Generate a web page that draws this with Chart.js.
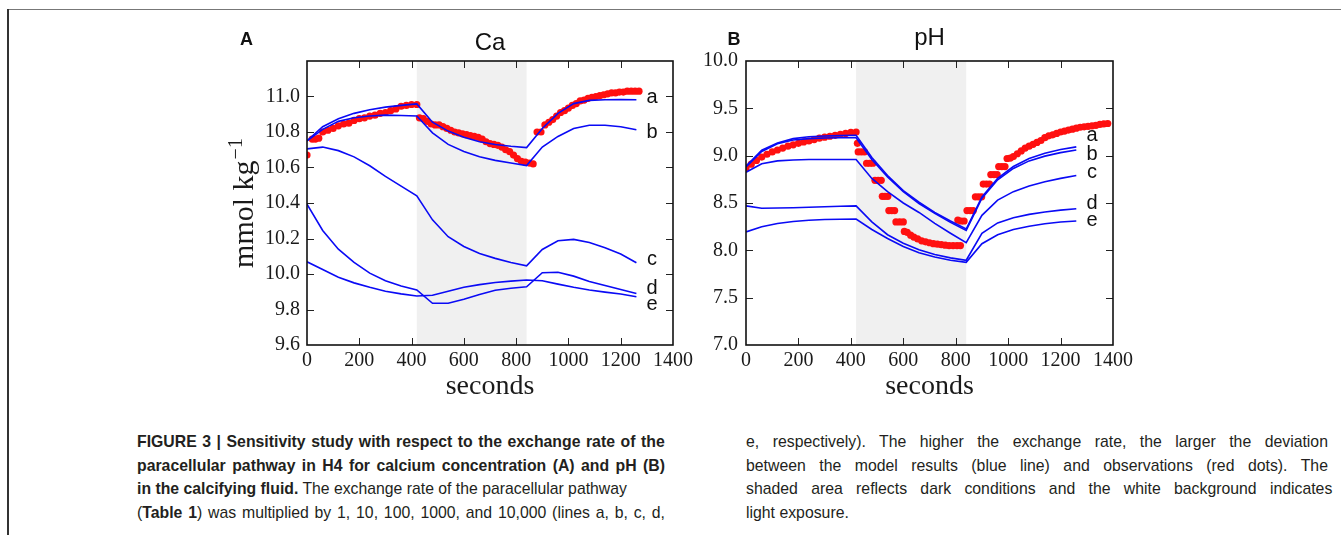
<!DOCTYPE html>
<html>
<head>
<meta charset="utf-8">
<script src="https://cdn.jsdelivr.net/npm/chart.js@4.4.1/dist/chart.umd.min.js"></script>
<style>
  html,body{margin:0;padding:0;background:#fff;}
  body{width:1341px;height:535px;overflow:hidden;position:relative;font-family:"Liberation Sans",Arial,sans-serif;}
  #frameTop{position:absolute;left:8px;top:9px;width:1333px;height:1px;background:#777;}
  #frameLeft{position:absolute;left:7px;top:9px;width:2px;height:526px;background:#333;}
  canvas{position:absolute;top:0;}
  #cA{left:220px;}
  #cB{left:700px;}
  .cap{position:absolute;top:430px;font-size:17px;color:#231f20;font-family:"Liberation Sans",Arial,sans-serif;}
  .ln{height:23.5px;line-height:23.5px;white-space:nowrap;}
  .ln .t{display:inline-block;transform-origin:0 50%;}
</style>
</head>
<body>
<div id="frameTop"></div>
<div id="frameLeft"></div>
<canvas id="cA" width="480" height="410"></canvas>
<canvas id="cB" width="460" height="410"></canvas>

<div class="cap" style="left:137px;width:528px;">
  <div class="ln" data-w="528"><span class="t"><b>FIGURE 3 | Sensitivity study with respect to the exchange rate of the</b></span></div>
  <div class="ln" data-w="528"><span class="t"><b>paracellular pathway in H4 for calcium concentration (A) and pH (B)</b></span></div>
  <div class="ln" data-w="490"><span class="t"><b>in the calcifying fluid.</b> The exchange rate of the paracellular pathway</span></div>
  <div class="ln" data-w="528"><span class="t">(<b>Table 1</b>) was multiplied by 1, 10, 100, 1000, and 10,000 (lines a, b, c, d,</span></div>
</div>
<div class="cap" style="left:746px;width:586px;">
  <div class="ln" data-w="582"><span class="t">e, respectively). The higher the exchange rate, the larger the deviation</span></div>
  <div class="ln" data-w="582"><span class="t">between the model results (blue line) and observations (red dots). The</span></div>
  <div class="ln" data-w="586"><span class="t">shaded area reflects dark conditions and the white background indicates</span></div>
  <div class="ln" data-w="0"><span class="t">light exposure.</span></div>
</div>

<script>
// ---------- data ----------
const modelTime = [0,60,120,180,240,300,360,420,480,540,600,660,720,780,840,900,960,1020,1080,1140,1200,1260];

// Panel A (Ca, mmol kg-1) model lines a..e
const caLineA = [10.75,10.83,10.875,10.905,10.925,10.94,10.95,10.958,10.855,10.805,10.77,10.745,10.73,10.72,10.712,10.82,10.905,10.96,10.978,10.982,10.983,10.982];
const caLineB = [10.75,10.815,10.86,10.88,10.89,10.895,10.893,10.89,10.795,10.73,10.69,10.66,10.64,10.625,10.611,10.715,10.775,10.82,10.838,10.838,10.83,10.813];
const caLineC = [10.705,10.715,10.695,10.66,10.61,10.55,10.495,10.44,10.305,10.21,10.155,10.115,10.088,10.065,10.046,10.138,10.187,10.195,10.177,10.148,10.113,10.063];
const caLineD = [10.393,10.245,10.14,10.065,10.005,9.962,9.932,9.91,9.835,9.835,9.858,9.885,9.908,9.92,9.928,10.007,10.01,9.988,9.958,9.935,9.913,9.89];
const caLineE = [10.069,10.025,9.982,9.95,9.925,9.903,9.888,9.876,9.88,9.903,9.925,9.94,9.952,9.96,9.966,9.962,9.943,9.925,9.91,9.898,9.887,9.872];

// Panel A observations (red dots)
const caObsTime  = [0,20,32,45,60,80,100,120,140,160,180,200,220,240,260,280,300,320,340,360,380,400,420,
  430,445,460,475,490,505,520,535,550,565,580,595,610,625,640,655,670,685,700,715,730,745,760,775,790,805,820,835,850,865,
  880,895,910,925,940,955,970,985,1000,1015,1030,1045,1060,1075,1090,1105,1120,1135,1150,1165,1180,1195,1210,1225,1240,1255,1270];
const caObsValue = [10.67,10.76,10.76,10.765,10.8,10.81,10.82,10.835,10.845,10.85,10.865,10.875,10.88,10.89,10.895,10.905,10.91,10.92,10.93,10.945,10.95,10.955,10.955,
  10.88,10.875,10.86,10.845,10.84,10.84,10.83,10.82,10.81,10.8,10.795,10.79,10.785,10.78,10.775,10.77,10.76,10.745,10.735,10.73,10.725,10.715,10.7,10.69,10.67,10.65,10.635,10.63,10.625,10.62,
  10.8,10.8,10.84,10.855,10.87,10.89,10.91,10.92,10.935,10.95,10.96,10.975,10.98,10.99,10.995,11.0,11.005,11.01,11.015,11.02,11.02,11.025,11.025,11.03,11.03,11.03,11.03];

// Panel B (pH) model lines a..e
const phLineA = [8.89,9.058,9.135,9.18,9.2,9.208,9.212,9.215,8.98,8.79,8.63,8.51,8.4,8.31,8.225,8.565,8.76,8.885,8.97,9.025,9.065,9.093];
const phLineB = [8.88,9.045,9.125,9.165,9.18,9.186,9.189,9.19,8.96,8.775,8.62,8.495,8.39,8.295,8.21,8.55,8.745,8.865,8.945,8.995,9.032,9.06];
const phLineC = [8.825,8.915,8.945,8.955,8.96,8.96,8.96,8.96,8.76,8.62,8.5,8.4,8.285,8.18,8.08,8.37,8.53,8.62,8.68,8.725,8.76,8.79];
const phLineD = [8.47,8.445,8.447,8.45,8.455,8.46,8.465,8.47,8.3,8.165,8.075,8.005,7.955,7.92,7.895,8.18,8.29,8.345,8.38,8.405,8.425,8.44];
const phLineE = [8.195,8.25,8.283,8.305,8.318,8.325,8.328,8.33,8.22,8.125,8.04,7.975,7.93,7.895,7.873,8.07,8.165,8.22,8.255,8.28,8.3,8.31];

// Panel B observations (red dots)
const phObsTime  = [0,20,40,60,80,100,120,140,160,180,200,220,240,260,280,300,320,340,360,380,400,420,
  425,428,440,452,460,472,484,492,504,516,520,530,541,545,556,567,572,586,600,604,615,628,640,655,670,685,700,715,730,745,760,775,790,805,818,
  808,820,832,843,855,867,875,887,899,905,917,929,934,946,958,964,976,988,996,1008,1020,
  1035,1050,1065,1080,1095,1110,1125,1140,1155,1170,1185,1200,1215,1230,1245,1260,1275,1290,1305,1320,1335,1350,1365,1380];
const phObsValue = [8.87,8.91,8.95,8.985,9.015,9.04,9.06,9.08,9.1,9.115,9.13,9.145,9.155,9.17,9.185,9.195,9.205,9.215,9.225,9.235,9.245,9.25,
  9.13,9.04,9.04,9.04,8.92,8.92,8.92,8.74,8.74,8.74,8.57,8.57,8.57,8.42,8.42,8.42,8.3,8.3,8.3,8.2,8.19,8.16,8.14,8.12,8.1,8.09,8.08,8.07,8.065,8.06,8.055,8.05,8.05,8.05,8.05,
  8.32,8.31,8.31,8.42,8.42,8.42,8.565,8.565,8.565,8.7,8.7,8.7,8.8,8.8,8.8,8.885,8.885,8.885,8.97,8.975,8.99,
  9.02,9.05,9.08,9.1,9.12,9.14,9.16,9.19,9.21,9.22,9.235,9.25,9.26,9.27,9.28,9.29,9.3,9.305,9.31,9.315,9.32,9.33,9.335,9.34];

const lineNames = ['a','b','c','d','e'];
const caLabelValue = [10.993,10.799,10.084,9.921,9.831];
const phLabelValue = [9.211,9.016,8.826,8.498,8.319];
const labelTime = 1320;
const darkStart = 420, darkEnd = 840;
const xMin = 0, xMax = 1400, xStep = 200;

// ---------- styling ----------
const BLUE = '#0a0af5';
const RED = '#ff1010';
const TXT = '#1a1a1a';
const SERIF = '"Liberation Serif","Times New Roman",serif';
const SANS = '"Liberation Sans",Arial,sans-serif';

function pts(t, v){ return t.map((x,i)=>({x:x, y:v[i]})); }

const decorPlugin = {
  id:'panelDecor',
  beforeDatasetsDraw(chart, args, o){
    const {ctx, chartArea:a, scales:{x}} = chart;
    ctx.save();
    ctx.fillStyle = '#f0f0f0';
    const x0 = x.getPixelForValue(darkStart), x1 = x.getPixelForValue(darkEnd);
    ctx.fillRect(x0, a.top, x1-x0, a.bottom-a.top);
    ctx.restore();
  },
  afterDatasetsDraw(chart, args, o){
    const {ctx, chartArea:a, scales:{x,y}} = chart;
    ctx.save();
    ctx.strokeStyle = '#222';
    ctx.lineWidth = 1;
    const L = 7;
    ctx.beginPath();
    x.ticks.forEach(t=>{
      const px = Math.round(x.getPixelForValue(t.value))+0.5;
      if (px <= a.left+1 || px >= a.right-1) return;
      ctx.moveTo(px, a.bottom); ctx.lineTo(px, a.bottom-L);
      ctx.moveTo(px, a.top); ctx.lineTo(px, a.top+L);
    });
    y.ticks.forEach(t=>{
      const py = Math.round(y.getPixelForValue(t.value))+0.5;
      if (py <= a.top+1 || py >= a.bottom-1) return;
      ctx.moveTo(a.left, py); ctx.lineTo(a.left+L, py);
      ctx.moveTo(a.right, py); ctx.lineTo(a.right-L, py);
    });
    ctx.stroke();
    ctx.lineWidth = 1.6;
    ctx.strokeStyle = '#111';
    ctx.strokeRect(a.left, a.top, a.right-a.left, a.bottom-a.top);
    ctx.restore();
  },
  afterDraw(chart, args, o){
    const {ctx, chartArea:a, scales:{x,y}} = chart;
    ctx.save();
    ctx.fillStyle = '#111';
    ctx.textBaseline = 'middle';
    ctx.textAlign = 'center';
    ctx.font = '24px ' + SANS;
    ctx.fillText(o.title, (a.left+a.right)/2, o.titleY);
    ctx.font = 'bold 18px ' + SANS;
    ctx.fillText(o.letter, o.letterX, 40);
    ctx.font = '20px ' + SANS;
    o.labelValues.forEach((v,i)=>{
      ctx.fillText(lineNames[i], x.getPixelForValue(labelTime), y.getPixelForValue(v));
    });
    // rotated y-axis unit with superscript
    if (o.unit) {
      ctx.save();
      ctx.fillStyle = TXT;
      const cx = o.unitX, cy = (a.top + a.bottom)/2;
      ctx.translate(cx, cy);
      ctx.rotate(-Math.PI/2);
      ctx.textAlign = 'left';
      ctx.textBaseline = 'alphabetic';
      ctx.font = '30px ' + SERIF;
      const w1 = ctx.measureText(o.unit).width;
      ctx.font = '20px ' + SERIF;
      const w2 = ctx.measureText(o.unitSup).width;
      const start = -(w1 + 1 + w2)/2;
      ctx.font = '30px ' + SERIF;
      ctx.fillText(o.unit, start, 10);
      ctx.font = '20px ' + SERIF;
      ctx.fillText(o.unitSup, start + w1 + 1, -1);
      ctx.restore();
    }
    ctx.restore();
  }
};

function makePanel(id, p){
  const datasets = p.lines.map((vals,i)=>({
    type:'line', label:'line '+lineNames[i], data:pts(modelTime, vals),
    borderColor:BLUE, borderWidth:1.6, pointRadius:0, tension:0, fill:false
  }));
  datasets.push({
    type:'scatter', label:'observations', data:pts(p.obsT, p.obsV),
    backgroundColor:RED, borderColor:RED, borderWidth:0, pointRadius:3.6, showLine:false
  });
  return new Chart(document.getElementById(id), {
    type:'line',
    data:{datasets},
    options:{
      responsive:false, animation:false, devicePixelRatio:1,
      layout:{padding:{left:0, right:p.padR, top:61, bottom:7}},
      plugins:{
        legend:{display:false}, tooltip:{enabled:false}, title:{display:false},
        panelDecor:{title:p.title, titleY:p.titleY, letter:p.letter, letterX:p.letterX,
                    labelValues:p.labelValues, unit:p.unit, unitSup:p.unitSup, unitX:23}
      },
      scales:{
        x:{
          type:'linear', min:xMin, max:xMax,
          ticks:{stepSize:xStep, autoSkip:false, maxRotation:0, padding:4, color:TXT,
                 font:{family:SERIF, size:20}, callback:v=>String(v)},
          grid:{display:false, drawTicks:false, tickLength:0},
          border:{display:false},
          title:{display:true, text:'seconds', color:TXT, font:{family:SERIF, size:28}, padding:{top:0,bottom:0}},
          afterFit:s=>{ s.height = 58; }
        },
        y:{
          type:'linear', min:p.yMin, max:p.yMax,
          ticks:{stepSize:p.yStep, autoSkip:false, padding:p.yPad, color:TXT,
                 font:{family:SERIF, size:20},
                 callback:v=> (p.hideTop && Math.abs(v-p.yMax)<1e-6) ? '' : Number(v).toFixed(1)},
          grid:{display:false, drawTicks:false, tickLength:0},
          border:{display:false},
          title:{display:false},
          afterFit:s=>{ s.width = p.yWidth; }
        }
      }
    },
    plugins:[decorPlugin]
  });
}

makePanel('cA', {
  lines:[caLineA,caLineB,caLineC,caLineD,caLineE], obsT:caObsTime, obsV:caObsValue,
  yMin:9.6, yMax:11.2, yStep:0.2, hideTop:true, yPad:7, yWidth:87, padR:27,
  unit:'mmol kg', unitSup:'\u22121', title:'Ca', titleY:43.5, letter:'A', letterX:26.5, labelValues:caLabelValue
});
makePanel('cB', {
  lines:[phLineA,phLineB,phLineC,phLineD,phLineE], obsT:phObsTime, obsV:phObsValue,
  yMin:7.0, yMax:10.0, yStep:0.5, hideTop:false, yPad:8, yWidth:46, padR:47,
  unit:null, unitSup:null, title:'pH', titleY:38, letter:'B', letterX:34, labelValues:phLabelValue
});

// caption justification (slightly condensed look)
const COND = 0.93;
document.querySelectorAll('.ln').forEach(ln=>{
  const t = ln.querySelector('.t');
  const W = +ln.dataset.w;
  const w = t.offsetWidth;
  let sc = COND;
  if (W > 0) {
    const n = (t.textContent.match(/ /g)||[]).length;
    if (w*COND < W && n) {
      t.style.wordSpacing = ((W/COND - w)/n) + 'px';
    } else {
      sc = W / w;
    }
  }
  t.style.transform = 'scaleX(' + sc + ')';
});
</script>
</body>
</html>
